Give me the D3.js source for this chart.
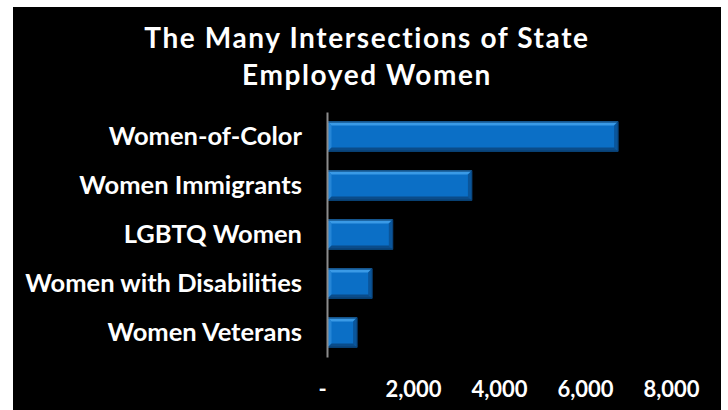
<!DOCTYPE html>
<html>
<head>
<meta charset="utf-8">
<script src="https://cdn.jsdelivr.net/npm/d3@7"></script>
<style>
  body { margin: 0; background: #fff; }
  text { font-family: Lato, "Open Sans", sans-serif; font-weight: bold; fill: #fff; }
</style>
</head>
<body>
<div id="barChart"></div>
<script>
// chart data
var categories = ["Women-of-Color", "Women Immigrants", "LGBTQ Women", "Women with Disabilities", "Women Veterans"];
var employed = [6770, 3370, 1530, 1050, 700];
var tickValues = [0, 2000, 4000, 6000, 8000];
var tickLabels = ["-", "2,000", "4,000", "6,000", "8,000"];
var titleLines = ["The Many Intersections of State", "Employed Women"];

function setup() {
    var W = 728, H = 410;
    var margin = {top: 112, right: 57, bottom: 53, left: 327},
        width = W - margin.left - margin.right,
        height = H - margin.top - margin.bottom;

    var svg = d3.select("#barChart").append("svg")
        .attr("width", W)
        .attr("height", H);

    // black panel
    svg.append("rect")
        .attr("x", 13).attr("y", 7)
        .attr("width", 708).attr("height", H - 7)
        .attr("fill", "#000");

    // title
    svg.append("text")
        .attr("text-anchor", "middle")
        .attr("font-size", 28)
        .attr("letter-spacing", 1.6)
        .selectAll("tspan")
        .data(titleLines)
        .enter().append("tspan")
        .attr("x", 367)
        .attr("y", function(d, i) { return 48 + i * 37; })
        .text(function(d) { return d; });

    var x = d3.scaleLinear()
        .domain([0, 8000])
        .range([0, 344]);
    var y = d3.scaleBand()
        .domain(categories)
        .range([0, height])
        .paddingInner(0.39)
        .paddingOuter(0.195);

    var g = svg.append("g")
        .attr("transform", "translate(" + margin.left + "," + margin.top + ")");

    var rows = categories.map(function(c, i) { return {cat: c, val: employed[i]}; });

    // bevelled bars
    var b = 4;
    var bars = g.selectAll(".bar")
        .data(rows)
        .enter().append("g")
        .attr("class", "bar");

    function facet(fn, color) {
        bars.append("polygon")
            .attr("points", function(d) {
                var x0 = x(0) + 0.5, x1 = x(d.val), y0 = y(d.cat), y1 = y0 + y.bandwidth();
                return fn(x0, x1, y0, y1).map(function(p) { return p.join(","); }).join(" ");
            })
            .attr("fill", color);
    }

    facet(function(x0, x1, y0, y1) { return [[x0, y0], [x1, y0], [x1, y1], [x0, y1]]; }, "#0b6fc6");
    facet(function(x0, x1, y0, y1) { return [[x0, y0], [x1, y0], [x1 - b, y0 + b], [x0 + b, y0 + b]]; }, "#3a9ae6");
    facet(function(x0, x1, y0, y1) { return [[x0, y0], [x0 + b, y0 + b], [x0 + b, y1 - b], [x0, y1]]; }, "#2585d6");
    facet(function(x0, x1, y0, y1) { return [[x1, y0], [x1, y1], [x1 - b, y1 - b], [x1 - b, y0 + b]]; }, "#0a559a");
    facet(function(x0, x1, y0, y1) { return [[x0, y1], [x1, y1], [x1 - b, y1 - b], [x0 + b, y1 - b]]; }, "#0a4c8a");

    bars.append("rect")
        .attr("x", x(0) + 0.5)
        .attr("y", function(d) { return y(d.cat) + 0.5; })
        .attr("width", function(d) { return x(d.val) - x(0) - 0.5; })
        .attr("height", y.bandwidth() - 1)
        .attr("fill", "none")
        .attr("stroke", "#0a3f72")
        .attr("stroke-width", 1);

    // category axis
    var yAxis = g.append("g")
        .call(d3.axisLeft(y).tickSize(0).tickPadding(25));
    yAxis.select(".domain")
        .attr("stroke", "#8c8c8c")
        .attr("stroke-width", 2);
    yAxis.selectAll("text")
        .attr("fill", "#fff")
        .attr("font-size", 25.5)
        .attr("font-family", "Lato, sans-serif")
        .attr("font-weight", "bold");

    // value axis
    var xAxis = g.append("g")
        .attr("transform", "translate(0," + height + ")")
        .call(d3.axisBottom(x)
            .tickValues(tickValues)
            .tickFormat(function(d, i) { return tickLabels[i]; })
            .tickSize(0)
            .tickPadding(24));
    xAxis.select(".domain").remove();
    xAxis.selectAll("text")
        .attr("fill", "#fff")
        .attr("font-size", 22)
        .attr("font-family", "Lato, sans-serif")
        .attr("font-weight", "bold")
        .attr("dx", function(d) { return d === 0 ? -5 : 0; });
}

setup();
</script>
</body>
</html>
